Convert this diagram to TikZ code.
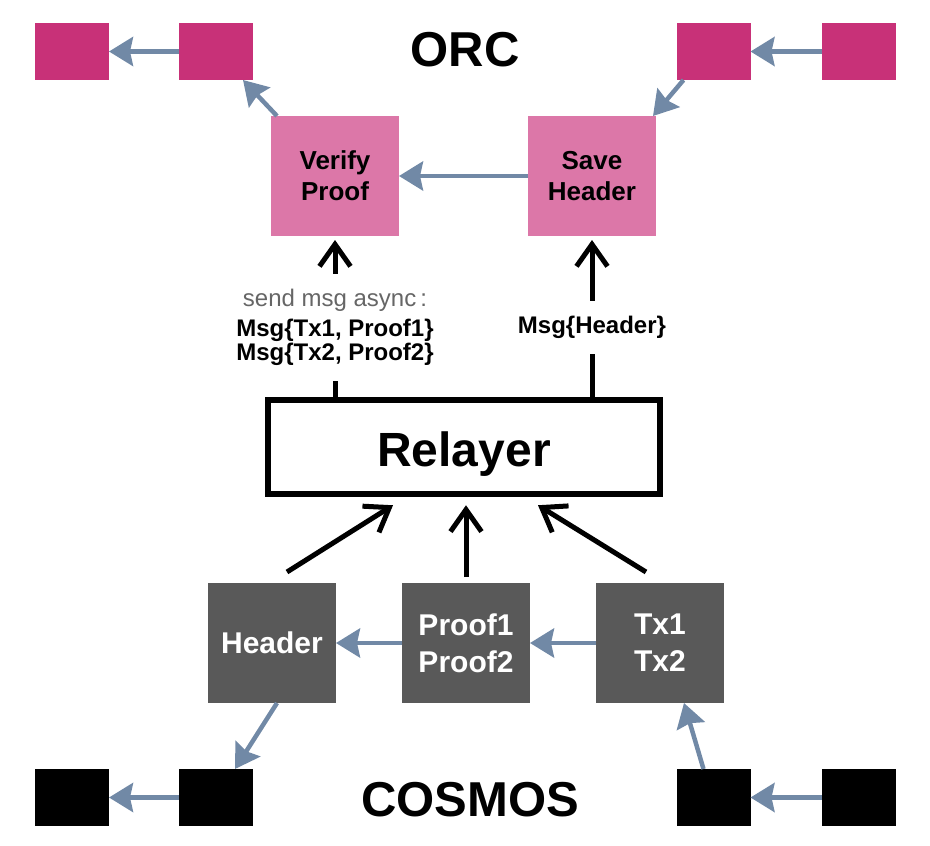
\documentclass[tikz,border=0pt]{standalone}
\usepackage{fontspec}
\setmainfont{Liberation Sans}
\usetikzlibrary{arrows.meta,positioning}
\definecolor{orcred}{HTML}{C83178}
\definecolor{orcpink}{HTML}{DC77A8}
\definecolor{cosgray}{HTML}{595959}
\definecolor{linkblue}{HTML}{7189A6}
\tikzset{every picture/.style={
  >={Straight Barb[length=22pt,width=31pt]}   % Open black arrow heads.
  }
}

\begin{document}
\begin{tikzpicture}[x=1pt,y=-1pt,
    block/.style={              % Small blocks of a chain.
      rectangle,
      inner sep=0pt,
      outer sep=0pt,
      minimum width=74pt,
      minimum height=57pt
    },
    module/.style={             % Boxes of the ORC modules.
      rectangle,
      fill=orcpink,
      inner sep=0pt,
      outer sep=0pt,
      minimum width=128pt,
      minimum height=120pt,
      align=center,
      font=\fontsize{26}{31}\selectfont\bfseries
    },
    data/.style={               % Boxes of the COSMOS data.
      rectangle,
      fill=cosgray,
      text=white,
      inner sep=0pt,
      outer sep=0pt,
      minimum width=128pt,
      minimum height=120pt,
      align=center,
      font=\fontsize{30}{37}\selectfont\bfseries
    },
    title/.style={              % Chain names.
      font=\fontsize{49}{55}\selectfont\bfseries
    },
    lbl/.style={                % Message labels on the arrows.
      fill=white,
      inner sep=15pt,
      yshift=-11pt,
      align=center,
      font=\fontsize{24}{24.5}\selectfont\bfseries
    },
    link/.style={               % Blue links between blocks.
      draw=linkblue,
      line width=4.5pt,
      -{Stealth[length=24pt,width=29pt,inset=3pt]}
    },
    flow/.style={               % Black data flow arrows.
      ->,
      line width=5pt
    }]
    \useasboundingbox (0,0) rectangle (930,846);

    % The ORC chain.
    \node[title] (orc) at (465,50) {ORC};
    \node[block,fill=orcred] (orc1) at (72,51.5) {};
    \node[block,fill=orcred] (orc2) [right=70pt of orc1] {};
    \node[block,fill=orcred] (orc4) at (858.5,51.5) {};
    \node[block,fill=orcred] (orc3) [left=71pt of orc4] {};
    \node[module] (verify) at (335,176) {Verify\\Proof};
    \node[module] (save) [right=129pt of verify] {Save\\Header};

    % The relayer.
    \node[draw,line width=6.5pt,minimum width=392pt,minimum height=94pt,
      text height=42pt,text depth=3pt,
      font=\fontsize{48}{55}\selectfont\bfseries] (relayer) at (464,447) {Relayer};

    % The COSMOS chain.
    \node[data] (header) at (272,643) {Header};
    \node[data] (proof) [right=66pt of header] {Proof1\\Proof2};
    \node[data] (tx) [right=66pt of proof] {Tx1\\Tx2};
    \node[title] (cosmos) at (470,800) {COSMOS};
    \node[block,fill=black] (cos1) at (72,797.5) {};
    \node[block,fill=black] (cos2) [right=70pt of cos1] {};
    \node[block,fill=black] (cos4) at (858.5,797.5) {};
    \node[block,fill=black] (cos3) [left=71pt of cos4] {};

    % Links inside the chains.
    \draw[link] (orc2) -- (orc1);
    \draw[link] ([xshift=6pt]verify.north west) -- ([xshift=-10pt]orc2.south east);
    \draw[link] (save) -- (verify);
    \draw[link] ([xshift=7pt]orc3.south west) -- ([xshift=-3pt]save.north east);
    \draw[link] (orc4) -- (orc3);
    \draw[link] (proof) -- (header);
    \draw[link] (tx) -- (proof);
    \draw[link] ([xshift=5pt]header.south) -- ([xshift=19pt]cos2.north);
    \draw[link] ([xshift=-10pt]cos3.north) -- ([xshift=24pt]tx.south);
    \draw[link] (cos4) -- (cos3);
    \draw[link] (cos2) -- (cos1);

    % Data read by the relayer.
    \draw[flow] ([xshift=15pt,yshift=11pt]header.north) --
      ([xshift=-71pt,yshift=-8pt]relayer.south);
    \draw[flow,shorten <=6pt,shorten >=8pt] (proof.north) -- (proof.north |- relayer.south);
    \draw[flow] ([xshift=-14pt,yshift=11pt]tx.north) --
      ([xshift=74pt,yshift=-8pt]relayer.south);

    % Messages sent by the relayer.
    \draw[flow,shorten >=4pt] (verify.south |- relayer.north) -- node[lbl]
      {{\color{black!60}\mdseries send msg async\,:}\\[5pt]Msg\{Tx1, Proof1\}\\Msg\{Tx2, Proof2\}}
      (verify.south);
    \draw[flow,shorten >=4pt] (save.south |- relayer.north) -- node[lbl]
      {Msg\{Header\}} (save.south);
\end{tikzpicture}
\end{document}
